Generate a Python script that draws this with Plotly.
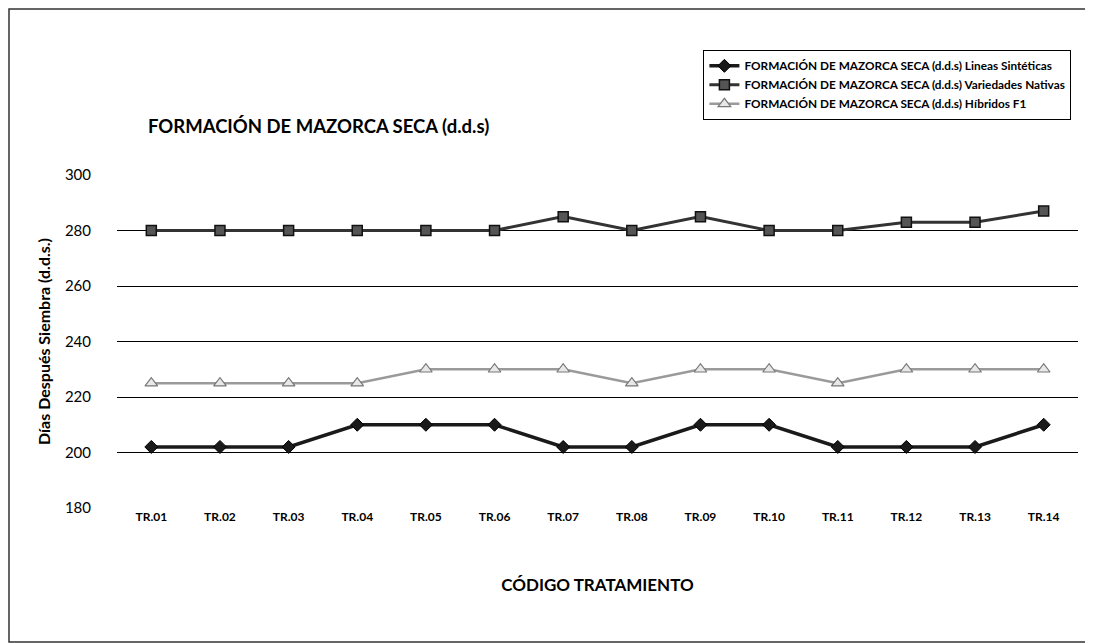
import plotly.graph_objects as go

tratamientos = ['TR.01', 'TR.02', 'TR.03', 'TR.04', 'TR.05', 'TR.06', 'TR.07',
                'TR.08', 'TR.09', 'TR.10', 'TR.11', 'TR.12', 'TR.13', 'TR.14']
lineas_sinteticas = [202, 202, 202, 210, 210, 210, 202, 202, 210, 210, 202, 202, 202, 210]
variedades_nativas = [280, 280, 280, 280, 280, 280, 285, 280, 285, 280, 280, 283, 283, 287]
hibridos_f1 = [225, 225, 225, 225, 230, 230, 230, 225, 230, 230, 225, 230, 230, 230]

FONT = 'Lato'

fig = go.Figure()

fig.add_trace(go.Scatter(
    x=tratamientos, y=lineas_sinteticas, mode='lines+markers',
    name='FORMACIÓN DE MAZORCA SECA (d.d.s) Lineas Sintéticas',
    line=dict(color='#1a1a1a', width=3.5),
    marker=dict(symbol='diamond', size=10, color='#1a1a1a',
                line=dict(color='#000000', width=1))
))

fig.add_trace(go.Scatter(
    x=tratamientos, y=variedades_nativas, mode='lines+markers',
    name='FORMACIÓN DE MAZORCA SECA (d.d.s) Variedades Nativas',
    line=dict(color='#333333', width=3),
    marker=dict(symbol='square', size=10, color='#555555',
                line=dict(color='#111111', width=1.5))
))

fig.add_trace(go.Scatter(
    x=tratamientos, y=hibridos_f1, mode='lines+markers',
    name='FORMACIÓN DE MAZORCA SECA (d.d.s) Híbridos F1',
    line=dict(color='#9a9a9a', width=2.5),
    marker=dict(symbol='triangle-up', size=11, color='#e8e8e8',
                line=dict(color='#777777', width=1.2))
))

# page body has an 8px margin, so the figure is shrunk to fit the window
fig.update_layout(
    width=1085, height=635,
    margin=dict(l=109, r=15, t=167, b=135),
    paper_bgcolor='white', plot_bgcolor='white',
    font=dict(family=FONT, color='#000000'),
    title=dict(text='<b>FORMACIÓN DE MAZORCA SECA (d.d.s)</b>',
               x=140 / 1085, xanchor='left', y=1 - 119 / 635, yanchor='middle',
               font=dict(size=18.5, family=FONT)),
    showlegend=True,
    legend=dict(x=0.61, y=1.375, xanchor='left', yanchor='top',
                bordercolor='#000000', borderwidth=1.2, bgcolor='white',
                font=dict(size=11.8, family=FONT, weight='bold'),
                itemwidth=30, tracegroupgap=0),
    xaxis=dict(
        type='category', range=[-0.5, 13.5], showgrid=False, showline=False,
        zeroline=False, ticks='', tickfont=dict(size=12, family=FONT, weight='bold'),
        title=dict(text='<b>CÓDIGO TRATAMIENTO</b>', font=dict(size=17, family=FONT),
                   standoff=56)
    ),
    yaxis=dict(
        range=[180, 300], dtick=20, showgrid=True, gridcolor='#000000', gridwidth=1,
        zeroline=False, showline=False, ticks='outside', ticklen=22,
        tickcolor='rgba(0,0,0,0)', tickfont=dict(size=15, family=FONT),
        title=dict(text='<b>Días Después Siembra (d.d.s.)</b>', font=dict(size=16, family=FONT),
                   standoff=10)
    ),
    shapes=[dict(type='rect', xref='paper', yref='paper',
                 x0=-108 / 961, x1=1 + 12 / 961, y0=-134 / 333, y1=1 + 166 / 333,
                 line=dict(color='#333333', width=1.5))]
)

fig.write_html('out.html')
